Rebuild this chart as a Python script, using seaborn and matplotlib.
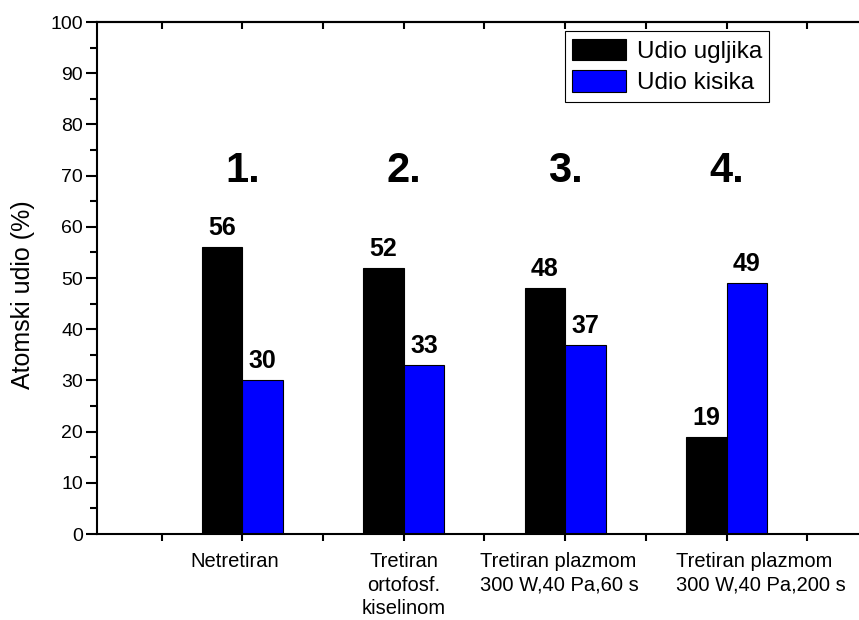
import matplotlib
matplotlib.use("Agg")
import matplotlib.pyplot as plt
import matplotlib.transforms as mtransforms
import seaborn as sns
import pandas as pd

# podaci s grafa
uzorci = ["Netretiran",
          "Tretiran\nortofosf.\nkiselinom",
          "Tretiran plazmom\n300 W,40 Pa,60 s",
          "Tretiran plazmom\n300 W,40 Pa,200 s"]
oznake = ["1.", "2.", "3.", "4."]
udio_ugljika = [56, 52, 48, 19]
udio_kisika = [30, 33, 37, 49]
serije = ["Udio ugljika", "Udio kisika"]
boje = {"Udio ugljika": "black", "Udio kisika": "blue"}

sns.set_style("ticks")
plt.rcParams["font.family"] = ["Liberation Sans", "DejaVu Sans"]
for k in ["text.color", "axes.labelcolor", "xtick.color", "ytick.color", "axes.edgecolor"]:
    plt.rcParams[k] = "black"

df = pd.DataFrame({
    "uzorak": uzorci * 2,
    "serija": [serije[0]] * 4 + [serije[1]] * 4,
    "udio": udio_ugljika + udio_kisika,
})

fig = plt.figure(figsize=(8.59, 6.2), dpi=100)
ax = fig.add_axes([0.1129, 0.1387, 0.8871, 0.8258])

sns.barplot(data=df, x="uzorak", y="udio", hue="serija", palette=boje,
            width=0.5, gap=0, edgecolor="black", linewidth=0.8,
            saturation=1, ax=ax)

for c in ax.containers:
    ax.bar_label(c, padding=5, fontsize=18, fontweight="bold")

for i, t in enumerate(oznake):
    ax.text(i, 68.8, t, ha="center", va="baseline", fontsize=30, fontweight="bold")

ax.set_xlim(-0.9, 3.82)
ax.set_ylim(0, 100)
ax.set_yticks(range(0, 101, 10))
ax.set_yticks(range(5, 100, 10), minor=True)
ax.set_xticks(range(4))
ax.set_xticklabels(uzorci, linespacing=1.3)
ax.set_xticks([-0.5, 0.5, 1.5, 2.5, 3.5], minor=True)
ax.set_xlabel("")
ax.set_ylabel("Atomski udio (%)", fontsize=18)
ax.yaxis.set_label_coords(-0.081, 0.467)

ax.tick_params(axis="y", which="major", length=8, width=1.5, labelsize=14, pad=2)
ax.tick_params(axis="y", which="minor", length=5, width=1.5)
ax.tick_params(axis="x", which="both", length=5, width=1.5, labelsize=14.5, pad=8)

# pomak oznaka kao u originalu
pomaci = [-8, 0, -6, 34]
for lbl, dx in zip(ax.get_xticklabels(), pomaci):
    lbl.set_transform(lbl.get_transform() + mtransforms.ScaledTranslation(dx / 100, 0, fig.dpi_scale_trans))
for lbl in ax.get_xticklabels()[2:]:
    lbl.set_multialignment("left")

for s in ["left", "bottom", "top"]:
    ax.spines[s].set_linewidth(1.5)
ax.spines["right"].set_visible(False)

top = ax.secondary_xaxis("top")
top.set_xticks(range(4))
top.set_xticks([-0.5, 0.5, 1.5, 2.5, 3.5], minor=True)
top.tick_params(which="both", direction="in", length=5, width=1.5, labeltop=False)
top.spines["top"].set_linewidth(1.5)

ax.legend(loc="upper left", bbox_to_anchor=(0.614, 0.982), borderaxespad=0,
          fontsize=17.5, frameon=True, fancybox=False, edgecolor="black",
          framealpha=1, handlelength=2.2, handleheight=1.0, handletextpad=0.45,
          labelspacing=0.3, borderpad=0.3)
ax.get_legend().get_frame().set_linewidth(0.8)

fig.savefig("out.png", dpi=100)
